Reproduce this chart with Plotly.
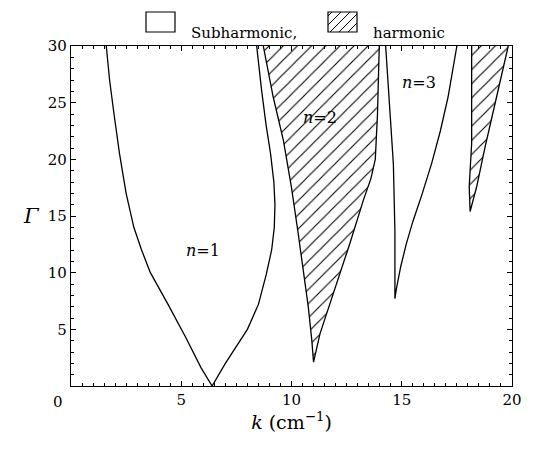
import plotly.graph_objects as go

# ---- data (k in cm^-1, Gamma) ----
n1_left_k = [1.6, 1.75, 1.95, 2.2, 2.5, 2.85, 3.2, 3.6, 4.4, 5.2, 5.9, 6.4]
n1_left_g = [30, 27, 24, 20.5, 17, 14, 12, 10, 7.2, 4.3, 1.6, 0]
n1_right_k = [6.4, 7.0, 7.5, 8.0, 8.5, 8.85, 9.1, 9.22, 9.25, 9.2, 9.05, 8.85, 8.65, 8.42]
n1_right_g = [0, 2.0, 3.5, 5.0, 7.2, 9.8, 12.0, 14.0, 16.0, 18.0, 20.5, 23.0, 26.0, 30]

n2_left_k = [8.72, 9.17, 9.63, 10.0, 10.3, 10.55, 10.76, 10.92, 11.0]
n2_left_g = [30, 25.5, 21.7, 17.5, 13.5, 10.0, 7.0, 4.05, 2.1]
n2_right_k = [11.0, 11.29, 11.7, 12.05, 12.65, 13.26, 13.6, 13.8, 13.9, 13.98]
n2_right_g = [2.1, 4.6, 7.0, 9.05, 12.6, 16.4, 18.3, 20.0, 24.0, 30]

n3_left_k = [14.27, 14.47, 14.62, 14.69, 14.69]
n3_left_g = [30, 24.0, 19.6, 13.7, 7.7]
n3_right_k = [14.69, 14.75, 14.95, 15.2, 15.5, 15.9, 16.35, 16.75, 17.1, 17.5]
n3_right_g = [7.7, 8.5, 10.5, 12.5, 14.5, 16.8, 19.6, 22.5, 25.5, 30]

n4_left_k = [18.17, 18.17, 18.06, 18.1]
n4_left_g = [30, 21.4, 17.6, 15.4]
n4_right_k = [18.1, 18.4, 18.78, 19.3, 19.83]
n4_right_g = [15.4, 17.6, 21.1, 25.5, 30]

x_ticks = [5, 10, 15, 20]
y_ticks = [5, 10, 15, 20, 25, 30]

labels = ["<i>n</i>=1", "<i>n</i>=2", "<i>n</i>=3"]
label_k = [6.0, 11.3, 15.8]
label_g = [12.0, 23.7, 26.8]

FONT = "DejaVu Serif"

fig = go.Figure()

def tongue(lk, lg, rk, rg, hatched):
    xs = lk + rk[1:]
    ys = lg + rg[1:]
    kw = dict(x=xs, y=ys, mode="lines", line=dict(color="black", width=1.3),
              showlegend=False, hoverinfo="skip")
    if hatched:
        kw.update(fill="toself", fillcolor="white",
                  fillpattern=dict(shape="/", fgcolor="black", bgcolor="white",
                                   fgopacity=1, size=10, solidity=0.11))
    fig.add_trace(go.Scatter(**kw))

tongue(n1_left_k, n1_left_g, n1_right_k, n1_right_g, False)
tongue(n2_left_k, n2_left_g, n2_right_k, n2_right_g, True)
tongue(n3_left_k, n3_left_g, n3_right_k, n3_right_g, False)
tongue(n4_left_k, n4_left_g, n4_right_k, n4_right_g, True)

for t, xk, yg in zip(labels, label_k, label_g):
    fig.add_annotation(x=xk, y=yg, text=t, showarrow=False,
                       font=dict(family=FONT, size=16, color="black"))

# page body has an 8px margin: work in page pixels minus 8
OFF = 8
W, H = 536 - OFF, 450 - OFF
L, R, T, B = 71 - OFF, 24, 46 - OFF, 64
PW, PH = W - L - R, H - T - B

def px(x):
    return (x - OFF - L) / PW

def py(y):
    return (H - B - (y - OFF)) / PH

# ---- legend (drawn) ----
shapes = []
box_w, box_h = 29, 20
for bx in (146, 328):
    shapes.append(dict(type="rect", xref="paper", yref="paper",
                       x0=px(bx), x1=px(bx + box_w), y0=py(12 + box_h), y1=py(12),
                       line=dict(color="black", width=1.2), fillcolor="white"))
bx0, by0 = 328, 12 + box_h
for c in range(-16, 30, 9):
    u0 = max(0, c)
    u1 = min(box_w, box_h + c)
    if u1 - u0 > 0.5:
        shapes.append(dict(type="line", xref="paper", yref="paper",
                           x0=px(bx0 + u0), y0=py(by0 - (u0 - c)),
                           x1=px(bx0 + u1), y1=py(by0 - (u1 - c)),
                           line=dict(color="black", width=1)))

fig.add_annotation(xref="paper", yref="paper", x=px(189), y=py(22), xanchor="left",
                   text="Subharmonic,", showarrow=False,
                   font=dict(family=FONT, size=15, color="black"))
fig.add_annotation(xref="paper", yref="paper", x=px(371), y=py(22), xanchor="left",
                   text="harmonic", showarrow=False,
                   font=dict(family=FONT, size=15, color="black"))

# axis title and the (shifted) zero label of the k axis
fig.add_annotation(xref="paper", yref="paper", x=px(21), y=py(216),
                   text="<i>Γ</i>", showarrow=False,
                   font=dict(family=FONT, size=21, color="black"))
fig.add_annotation(xref="x", yref="y", x=0, y=0, xshift=-13, yshift=-5,
                   yanchor="top", text="0", showarrow=False,
                   font=dict(family=FONT, size=15, color="black"))

fig.update_layout(
    width=W, height=H,
    margin=dict(l=L, r=R, t=T, b=B),
    paper_bgcolor="white", plot_bgcolor="white",
    shapes=shapes,
    showlegend=False,
    font=dict(family=FONT),
)
fig.update_xaxes(range=[0, 20], tickvals=x_ticks,
                 ticks="inside", ticklen=5, tickcolor="black", tickwidth=1,
                 minor=dict(dtick=0.5, ticks="inside", ticklen=3, tickcolor="black"),
                 showline=True, linecolor="black", linewidth=1.2, mirror="ticks",
                 showgrid=False, zeroline=False,
                 tickfont=dict(family=FONT, size=15, color="black"),
                 title=dict(text="<i>k</i> (cm<sup>−1</sup>)", standoff=6,
                            font=dict(family=FONT, size=19, color="black")))
fig.update_yaxes(range=[0, 30], tickvals=y_ticks,
                 ticks="inside", ticklen=5, tickcolor="black", tickwidth=1,
                 minor=dict(dtick=1, ticks="inside", ticklen=3, tickcolor="black"),
                 showline=True, linecolor="black", linewidth=1.2, mirror="ticks",
                 showgrid=False, zeroline=False,
                 tickfont=dict(family=FONT, size=15, color="black"))

fig.write_html("out.html")
